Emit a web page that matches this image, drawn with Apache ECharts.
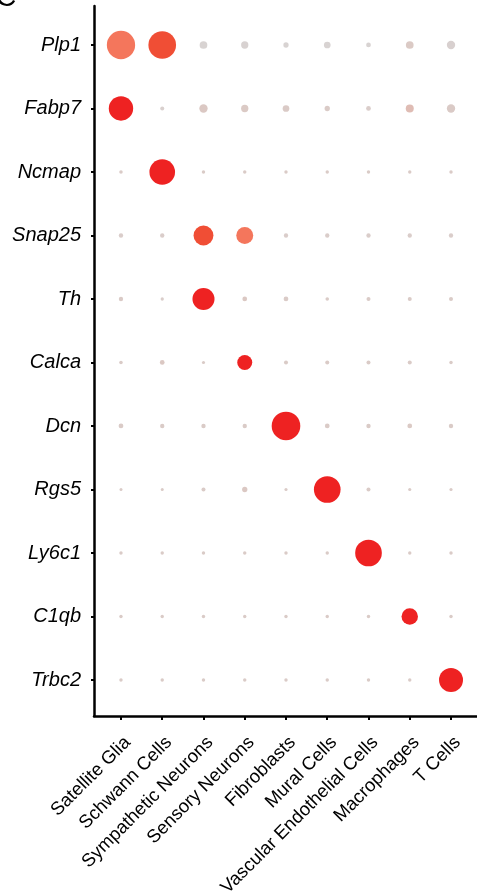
<!DOCTYPE html>
<html>
<head>
<meta charset="utf-8">
<script src="https://cdn.jsdelivr.net/npm/echarts@6/dist/echarts.min.js"></script>
<style>
html,body{margin:0;padding:0;background:#fff;}
#chart{width:477px;height:896px;}
</style>
</head>
<body>
<div id="chart"></div>
<script>
// Genes (rows, top to bottom)
var genes = ['Plp1','Fabp7','Ncmap','Snap25','Th','Calca','Dcn','Rgs5','Ly6c1','C1qb','Trbc2'];
// Cell types (columns, left to right)
var cells = ['Satellite Glia','Schwann Cells','Sympathetic Neurons','Sensory Neurons','Fibroblasts','Mural Cells','Vascular Endothelial Cells','Macrophages','T Cells'];

// Percent of cells expressing (per gene row, per cell type)
var pctPlp1   = [89, 85, 6.6, 5.9, 3.1, 5, 2.5, 6.6, 7.7];
var pctFabp7  = [66, 1.8, 7.7, 5.9, 5, 3.1, 2.5, 7.1, 7.7];
var pctNcmap  = [1.4, 73, 1.3, 1.3, 1.3, 1.3, 1.3, 1.3, 1.3];
var pctSnap25 = [2.1, 2.1, 44, 32, 2.1, 2.1, 2.1, 2.1, 2.1];
var pctTh     = [2.1, 1.2, 54, 2.5, 2.5, 1.4, 1.8, 1.8, 1.8];
var pctCalca  = [1.4, 2.5, 1.1, 25, 1.8, 1.8, 1.8, 1.8, 1.3];
var pctDcn    = [2.5, 2.1, 2.1, 2.1, 91, 2.5, 2.1, 2.5, 2.1];
var pctRgs5   = [1, 1, 1.8, 3.1, 1.1, 79, 1.8, 1.1, 1.1];
var pctLy6c1  = [1.3, 1.3, 1.3, 1.3, 1.3, 1.3, 79, 1.3, 1.3];
var pctC1qb   = [1.3, 1.3, 1.3, 1.3, 1.3, 1.3, 1.3, 30, 1.3];
var pctTrbc2  = [1.3, 1.3, 1.3, 1.3, 1.3, 1.3, 1.3, 1.3, 64];

// Scaled average expression (0..1)
var exprPlp1   = [0.62, 0.8, 0.02, 0.03, 0.02, 0.02, 0.02, 0.14, 0.05];
var exprFabp7  = [1.0, 0.06, 0.16, 0.14, 0.13, 0.12, 0.1, 0.26, 0.13];
var exprNcmap  = [0.12, 1.0, 0.12, 0.12, 0.12, 0.12, 0.12, 0.12, 0.12];
var exprSnap25 = [0.1, 0.1, 0.8, 0.62, 0.1, 0.1, 0.1, 0.1, 0.1];
var exprTh     = [0.13, 0.1, 1.0, 0.16, 0.12, 0.12, 0.12, 0.12, 0.12];
var exprCalca  = [0.12, 0.16, 0.12, 1.0, 0.12, 0.12, 0.12, 0.12, 0.12];
var exprDcn    = [0.12, 0.12, 0.12, 0.12, 1.0, 0.12, 0.12, 0.14, 0.12];
var exprRgs5   = [0.12, 0.12, 0.12, 0.16, 0.12, 1.0, 0.12, 0.12, 0.12];
var exprLy6c1  = [0.12, 0.12, 0.12, 0.12, 0.12, 0.12, 1.0, 0.12, 0.12];
var exprC1qb   = [0.12, 0.12, 0.12, 0.12, 0.12, 0.12, 0.12, 1.0, 0.12];
var exprTrbc2  = [0.12, 0.12, 0.12, 0.12, 0.12, 0.12, 0.12, 0.12, 1.0];

var pctRows  = [pctPlp1, pctFabp7, pctNcmap, pctSnap25, pctTh, pctCalca, pctDcn, pctRgs5, pctLy6c1, pctC1qb, pctTrbc2];
var exprRows = [exprPlp1, exprFabp7, exprNcmap, exprSnap25, exprTh, exprCalca, exprDcn, exprRgs5, exprLy6c1, exprC1qb, exprTrbc2];

var data = [];
for (var g = 0; g < genes.length; g++) {
  for (var c = 0; c < cells.length; c++) {
    data.push([c, g, pctRows[g][c], exprRows[g][c]]);
  }
}
var cellIdx = cells.map(function(_, i){ return i; });
var geneIdx = genes.map(function(_, i){ return i; });

var chart = echarts.init(document.getElementById('chart'), null, {renderer: 'canvas'});
var font = 'Liberation Sans, Arial, Helvetica, sans-serif';
chart.setOption({
  animation: false,
  backgroundColor: '#fff',
  grid: {left: 94, right: 0, top: 6, bottom: 180, containLabel: false, outerBoundsMode: 'none'},
  graphic: [{
    type: 'text', left: -4, top: -16,
    style: {text: 'C', font: '28px ' + font, fill: '#000'}
  }],
  xAxis: {
    type: 'value', min: -0.654, max: 8.63,
    splitLine: {show: false},
    axisLine: {show: true, onZero: false, lineStyle: {color: '#000', width: 2.5}},
    axisTick: {show: true, customValues: cellIdx, length: 4, lineStyle: {color: '#000', width: 2}},
    axisLabel: {
      customValues: cellIdx, rotate: 45, margin: 17, verticalAlign: 'top', align: 'right',
      color: '#000', fontSize: 18.5, fontFamily: font,
      formatter: function(v){ return cells[Math.round(v)]; }
    }
  },
  yAxis: {
    type: 'value', inverse: true, min: -0.614, max: 10.567,
    splitLine: {show: false},
    axisLine: {show: true, onZero: false, lineStyle: {color: '#000', width: 2.5}},
    axisTick: {show: true, customValues: geneIdx, length: 3, lineStyle: {color: '#000', width: 2}},
    axisLabel: {
      customValues: geneIdx, margin: 13,
      color: '#000', fontSize: 20, fontStyle: 'italic', fontFamily: font,
      formatter: function(v){ return genes[Math.round(v)]; }
    }
  },
  visualMap: {
    show: false, type: 'continuous', dimension: 3, min: 0, max: 1,
    inRange: {color: ['#d7d4d4', '#dcc5bf', '#e6a899', '#f47a60', '#f04e35', '#ee2222']}
  },
  series: [{
    type: 'scatter',
    data: data,
    symbol: 'circle',
    symbolSize: function(v){ return 30 * Math.sqrt(v[2] / 100); },
    itemStyle: {opacity: 1}
  }]
});
</script>
</body>
</html>
